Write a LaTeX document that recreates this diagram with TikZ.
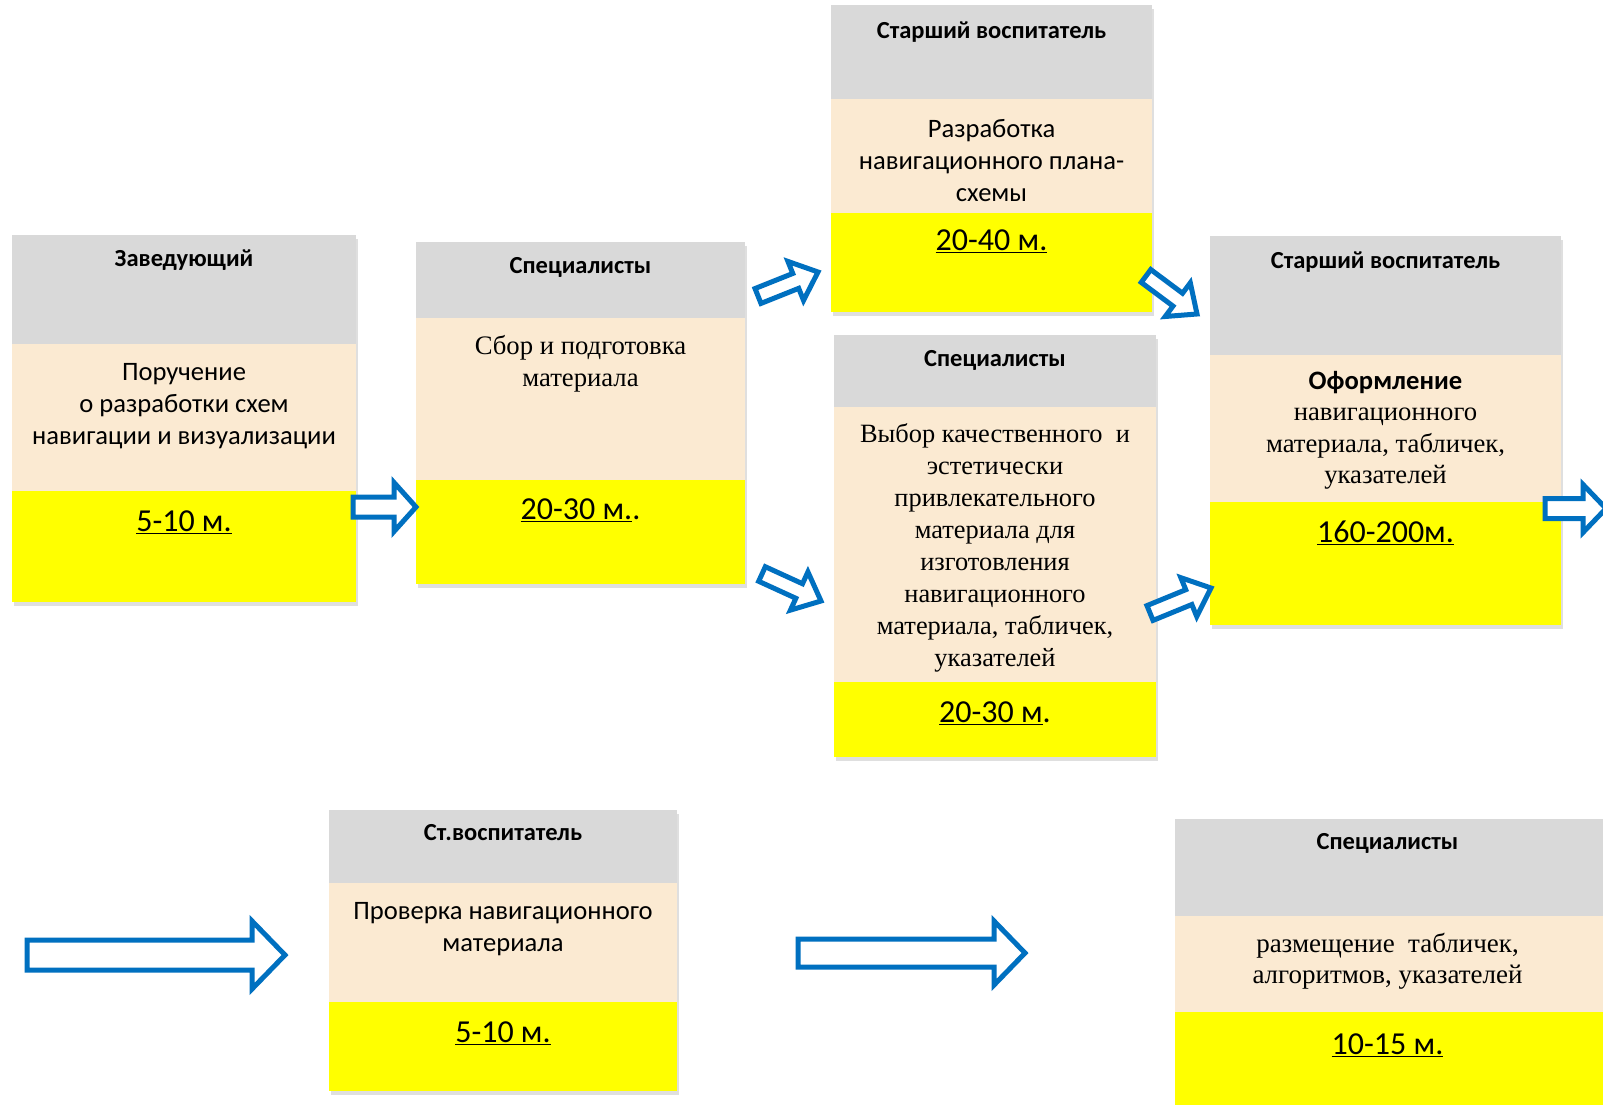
\documentclass[tikz,border=0pt]{standalone}
\usepackage{fontspec}
\setmainfont{Carlito}
\newfontfamily\tnr{Liberation Serif}
\usetikzlibrary{calc,shadows}
\definecolor{hdrgray}{HTML}{D9D9D9}
\definecolor{bodybg}{HTML}{FBEAD2}
\definecolor{timebg}{HTML}{FFFF00}
\definecolor{arrblue}{HTML}{0070C0}
\newcommand\ttlfont{\bfseries\fontsize{24.5}{28}\selectfont}
\newcommand\bdyfont{\fontsize{26.6}{32}\selectfont}
\newcommand\tmsfont{\tnr\fontsize{26.7}{31.5}\selectfont}
\newcommand\timfont{\fontsize{32}{38}\selectfont}
\tikzset{
  barrow/.style={draw=arrblue, fill=white, line width=5pt, line join=miter},
  boxshadow/.style={drop shadow={shadow xshift=2pt, shadow yshift=-4pt, opacity=0.25}},
  txt/.style={inner sep=0pt, align=center, text=black},
  ttl/.style={txt, font=\ttlfont},
  bdy/.style={txt, font=\bdyfont},
  tms/.style={txt, font=\tmsfont},
  tim/.style={txt, font=\timfont},
}
% box: L R T G B Y
\newcommand\flowbox[6]{%
  \path[fill=hdrgray, boxshadow] (#1,#3) rectangle (#2,#6);
  \fill[hdrgray] (#1,#3) rectangle (#2,#4);
  \fill[bodybg] (#1,#4) rectangle (#2,#5);
  \fill[timebg] (#1,#5) rectangle (#2,#6);
}
% block arrow: start, end, shaft half width, head half width, head length
\newcommand\blockarr[5]{%
  \coordinate (hb) at ($(#2)!#5!(#1)$);
  \draw[barrow] ($(#1)!#3!-90:(#2)$) -- ($(hb)!#3!-90:(#2)$) -- ($(hb)!#4!-90:(#2)$) -- (#2)
    -- ($(hb)!#4!90:(#2)$) -- ($(hb)!#3!90:(#2)$) -- ($(#1)!#3!90:(#2)$) -- cycle;
}
\begin{document}
\begin{tikzpicture}[x=1pt, y=-1pt]
\useasboundingbox[fill=white] (0,0) rectangle (1603,1105);

% Box 1
\flowbox{12}{356}{235}{344}{491}{602}
\node[ttl] (t1) at (184,260) {Заведующий};
\node[bdy] (b1) at (184,406) {Поручение\\о разработки схем\\навигации и визуализации};
\node[tim] (m1) at (184,522) {\underline{5-10 м.}};

% Box 2
\flowbox{416}{745}{242}{318}{480}{584}
\node[ttl] (t2) at (580.5,267) {Специалисты};
\node[tms] (b2) at (580.5,364) {Сбор и подготовка\\материала};
\node[tim] (m2) at (580.5,510) {\underline{20-30 м.}.};

% Box 3
\flowbox{831}{1152}{5}{99}{213}{312}
\node[ttl] (t3) at (991.5,32) {Старший воспитатель};
\node[bdy] (b3) at (991.5,161) {Разработка\\навигационного плана-\\схемы};
\node[tim] (m3) at (991.5,241) {\underline{20-40 м.}};

% Box 4
\flowbox{834}{1156}{335}{407}{682}{757}
\node[ttl] (t4) at (995,360) {Специалисты};
\node[tms, font=\tnr\fontsize{26.4}{32}\selectfont] (b4) at (995,548) {Выбор качественного\ \ и\\эстетически\\привлекательного\\материала для\\изготовления\\навигационного\\материала, табличек,\\указателей};
\node[tim] (m4) at (995,713) {\underline{20-30 м}.};

% Box 5
\flowbox{1210}{1561}{236}{355}{502}{625}
\node[ttl] (t5) at (1385.5,262) {Старший воспитатель};
\node[bdy, font=\bdyfont\bfseries] (b5a) at (1385.5,383) {Оформление};
\node[tms] (b5) at (1385.5,449) {навигационного\\материала, табличек,\\указателей};
\node[tim] (m5) at (1385.5,533) {\underline{160-200м.}};

% Box 6
\flowbox{329}{677}{810}{883}{1002}{1091}
\node[ttl] (t6) at (503,833) {Ст.воспитатель};
\node[bdy] (b6) at (503,929) {Проверка навигационного\\материала};
\node[tim] (m6) at (503,1033) {\underline{5-10 м.}};

% Box 7
\flowbox{1175}{1603}{819}{916}{1012}{1105}
\node[ttl] (t7) at (1387.5,843) {Специалисты};
\node[tms, font=\tnr\fontsize{27}{31.5}\selectfont] (b7) at (1387.5,961) {размещение\ \ табличек,\\алгоритмов, указателей};
\node[tim] (m7) at (1387.5,1045) {\underline{10-15 м.}};

% Arrow end points
\coordinate (a1s) at (353,507);   \coordinate (a1e) at (416,507);
\coordinate (aAs) at (758,296);   \coordinate (aAe) at (818,272);
\coordinate (aBs) at (762,574);   \coordinate (aBe) at (821,601);
\coordinate (aCs) at (1146,276);  \coordinate (aCe) at (1197,314);
\coordinate (aDs) at (1150,613);  \coordinate (aDe) at (1211,588);
\coordinate (aEs) at (1545,508.5);\coordinate (aEe) at (1606,508.5);
\coordinate (aFs) at (27,955);    \coordinate (aFe) at (285,955);
\coordinate (aGs) at (798,953);   \coordinate (aGe) at (1025,953);

\blockarr{a1s}{a1e}{10pt}{24.5pt}{22pt}
\blockarr{aAs}{aAe}{8pt}{21pt}{24pt}
\blockarr{aBs}{aBe}{8pt}{21pt}{24pt}
\blockarr{aCs}{aCe}{8pt}{21pt}{24pt}
\blockarr{aDs}{aDe}{8pt}{21pt}{24pt}
\blockarr{aEs}{aEe}{10pt}{24pt}{23pt}
\blockarr{aFs}{aFe}{15pt}{34pt}{33pt}
\blockarr{aGs}{aGe}{14pt}{32pt}{31pt}
\end{tikzpicture}
\end{document}
